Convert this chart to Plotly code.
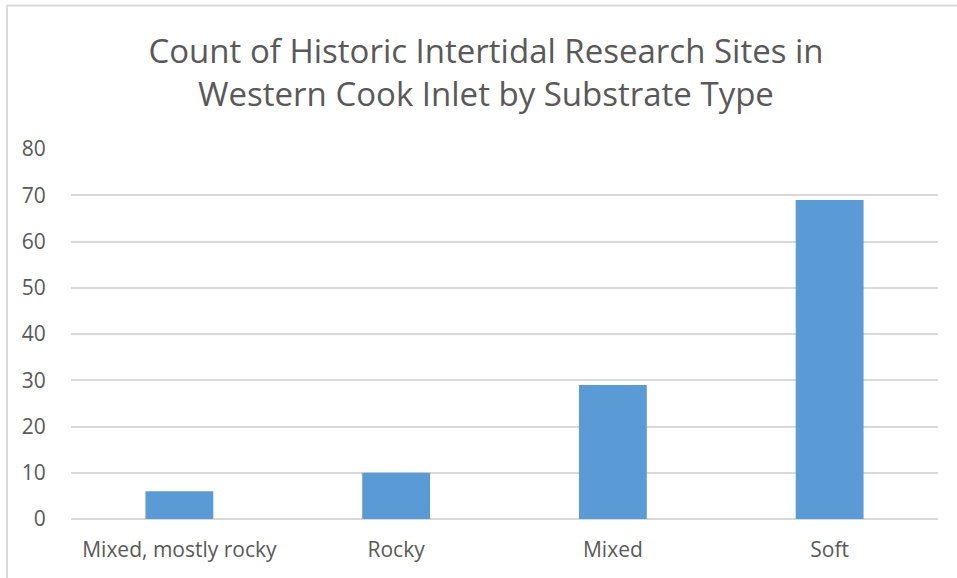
import plotly.graph_objects as go

categories = ["Mixed, mostly rocky", "Rocky", "Mixed", "Soft"]
counts = [6, 10, 29, 69]
y_ticks = [0, 10, 20, 30, 40, 50, 60, 70, 80]

W, H = 957, 578
L, R, T, B = 71, 19, 149, 59
pw, ph = W - L - R, H - T - B

def px_x(p):
    return (p - L) / pw

def px_y(p):
    return (H - B - p) / ph

fig = go.Figure(go.Bar(
    x=categories, y=counts,
    marker=dict(color="#5b9bd5", line=dict(width=0)),
    hoverinfo="x+y",
))

fig.update_layout(
    width=W, height=H,
    margin=dict(l=L, r=R, t=T, b=B),
    paper_bgcolor="white", plot_bgcolor="white",
    bargap=0.687,
    showlegend=False,
    font=dict(family="Open Sans", color="#595959"),
    title=dict(
        text="Count of Historic Intertidal Research Sites in<br>Western Cook Inlet by Substrate Type",
        x=486 / W, xref="container", xanchor="center",
        y=1 - 63 / H, yref="container", yanchor="top",
        font=dict(family="Open Sans", size=33, color="#595959"),
    ),
    xaxis=dict(
        showgrid=False, showline=False, zeroline=False,
        ticks="outside", ticklen=12, tickcolor="rgba(0,0,0,0)",
        tickfont=dict(size=21, color="#595959"),
    ),
    yaxis=dict(
        range=[0, 80], tickvals=y_ticks, ticktext=[str(v) for v in y_ticks],
        showgrid=True, gridcolor="#d9d9d9", gridwidth=1.5,
        zeroline=True, zerolinecolor="#d9d9d9", zerolinewidth=1.5,
        showline=False,
        ticks="outside", ticklen=20, tickcolor="rgba(0,0,0,0)",
        tickfont=dict(size=21, color="#595959"),
    ),
    shapes=[
        dict(type="line", xref="paper", yref="paper",
             x0=px_x(7), x1=px_x(W + 5), y0=px_y(5.5), y1=px_y(5.5),
             line=dict(color="#d9d9d9", width=2)),
        dict(type="line", xref="paper", yref="paper",
             x0=px_x(7), x1=px_x(7), y0=px_y(5.5), y1=px_y(H + 5),
             line=dict(color="#d9d9d9", width=2)),
    ],
)

fig.write_html(
    "out.html",
    config={"displayModeBar": False},
    post_script="document.body.style.margin='0';document.body.style.overflow='hidden';",
)
